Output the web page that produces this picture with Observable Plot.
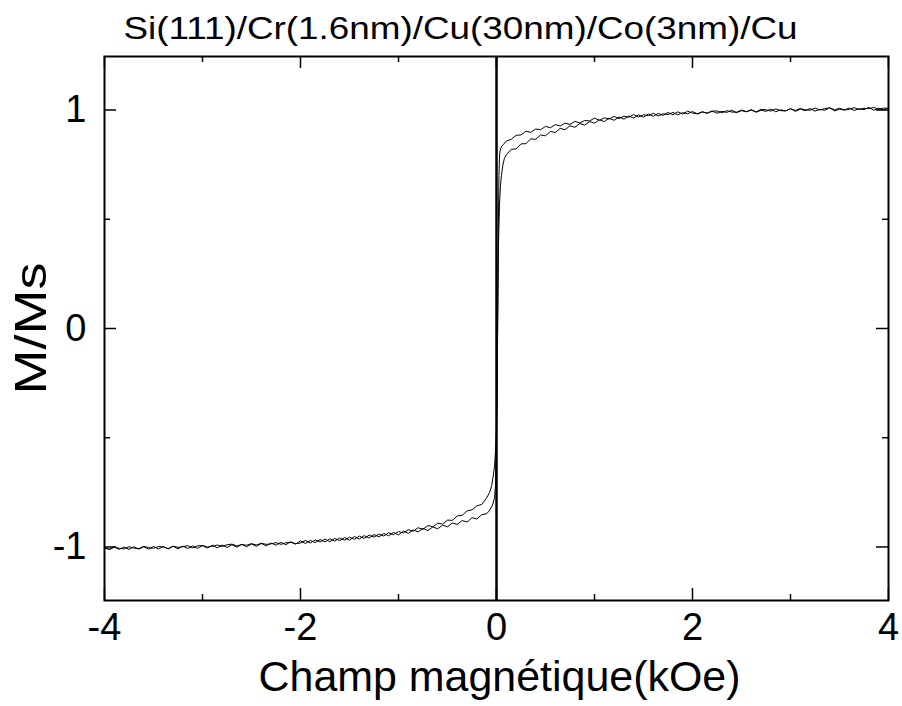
<!DOCTYPE html>
<html><head><meta charset="utf-8">
<script src="https://cdn.jsdelivr.net/npm/d3@7"></script>
<script src="https://cdn.jsdelivr.net/npm/@observablehq/plot@0.6"></script>
<style>body{margin:0;background:#fff} svg{display:block}</style>
</head><body><div id="chart"></div><script>
const title = "Si(111)/Cr(1.6nm)/Cu(30nm)/Co(3nm)/Cu";
const xLabel = "Champ magnétique(kOe)";
const yLabel = "M/Ms";
const xMajorTicks = [-4, -2, 0, 2, 4];
const xMinorTicks = [-3, -1, 1, 3];
const yMajorTicks = [-1, 0, 1];
const yMinorTicks = [-0.5, 0.5];

// descending branch (field swept from +4 to -4 kOe)
const fieldDown = [
  4.00,3.95,3.90,3.85,3.80,3.75,3.70,3.65,3.60,3.55,3.50,3.45,3.40,3.35,3.30,3.25,3.20,3.15,3.10,3.05,
  3.00,2.95,2.90,2.85,2.80,2.75,2.70,2.65,2.60,2.55,2.50,2.45,2.40,2.35,2.30,2.25,2.20,2.15,2.10,2.05,
  2.00,1.95,1.90,1.85,1.80,1.75,1.70,1.65,1.60,1.55,1.50,1.45,1.40,1.35,1.30,1.25,1.20,1.15,1.10,1.05,
  1.00,0.95,0.90,0.85,0.80,0.75,0.70,0.65,0.60,0.55,0.50,0.45,0.40,0.35,0.30,0.25,0.20,0.15,0.10,0.07,
  0.05,0.035,0.03,0.025,0.02,0.015,0.01,0.005,0.0,-0.01,-0.02,-0.035,-0.05,-0.07,-0.10,
  -0.15,-0.20,-0.25,-0.30,-0.35,-0.40,-0.45,-0.50,-0.55,-0.60,-0.65,-0.70,-0.75,-0.80,-0.85,-0.90,-0.95,
  -1.00,-1.05,-1.10,-1.15,-1.20,-1.25,-1.30,-1.35,-1.40,-1.45,-1.50,-1.55,-1.60,-1.65,-1.70,-1.75,-1.80,-1.85,-1.90,-1.95,
  -2.00,-2.05,-2.10,-2.15,-2.20,-2.25,-2.30,-2.35,-2.40,-2.45,-2.50,-2.55,-2.60,-2.65,-2.70,-2.75,-2.80,-2.85,-2.90,-2.95,
  -3.00,-3.05,-3.10,-3.15,-3.20,-3.25,-3.30,-3.35,-3.40,-3.45,-3.50,-3.55,-3.60,-3.65,-3.70,-3.75,-3.80,-3.85,-3.90,-3.95,-4.00];
const momentDown = [
  1.010,1.001,1.008,0.999,1.012,1.002,1.006,0.998,1.009,1.000,1.004,0.996,1.010,0.999,1.003,0.995,1.007,0.997,1.004,0.994,
  1.006,0.996,1.001,0.992,1.004,0.994,0.999,0.990,1.002,0.992,0.997,0.988,0.999,0.989,0.994,0.985,0.996,0.986,0.991,0.982,
  0.993,0.983,0.988,0.978,0.989,0.979,0.983,0.973,0.985,0.974,0.978,0.968,0.979,0.967,0.972,0.961,0.971,0.959,0.964,0.953,
  0.963,0.950,0.952,0.941,0.948,0.934,0.940,0.927,0.933,0.919,0.925,0.910,0.913,0.898,0.903,0.886,0.884,0.866,0.858,0.842,
  0.832,0.812,0.78,0.70,0.50,0.20,-0.10,-0.32,-0.45,-0.56,-0.63,-0.68,-0.72,-0.75,-0.775,
  -0.805,-0.812,-0.830,-0.835,-0.855,-0.858,-0.878,-0.877,-0.895,-0.891,-0.908,-0.902,-0.919,-0.912,-0.928,-0.921,-0.936,
  -0.929,-0.944,-0.935,-0.950,-0.941,-0.955,-0.946,-0.961,-0.950,-0.965,-0.955,-0.969,-0.959,-0.973,-0.963,-0.977,-0.966,-0.980,-0.970,-0.984,
  -0.972,-0.987,-0.976,-0.990,-0.979,-0.992,-0.982,-0.995,-0.984,-0.997,-0.986,-0.999,-0.988,-1.001,-0.990,-1.002,-0.991,-1.004,-0.992,-1.005,
  -0.994,-1.006,-0.995,-1.007,-0.996,-1.008,-0.997,-1.009,-0.998,-1.009,-0.998,-1.010,-0.999,-1.010,-0.999,-1.011,-1.000,-1.011,-1.000,-1.012,-1.003];

// ascending branch (field swept from -4 to +4 kOe)
const fieldUp = [
  -4.00,-3.95,-3.90,-3.85,-3.80,-3.75,-3.70,-3.65,-3.60,-3.55,-3.50,-3.45,-3.40,-3.35,-3.30,-3.25,-3.20,-3.15,-3.10,-3.05,
  -3.00,-2.95,-2.90,-2.85,-2.80,-2.75,-2.70,-2.65,-2.60,-2.55,-2.50,-2.45,-2.40,-2.35,-2.30,-2.25,-2.20,-2.15,-2.10,-2.05,
  -2.00,-1.95,-1.90,-1.85,-1.80,-1.75,-1.70,-1.65,-1.60,-1.55,-1.50,-1.45,-1.40,-1.35,-1.30,-1.25,-1.20,-1.15,-1.10,-1.05,
  -1.00,-0.95,-0.90,-0.85,-0.80,-0.75,-0.70,-0.65,-0.60,-0.55,-0.50,-0.45,-0.40,-0.35,-0.30,-0.25,-0.20,-0.15,-0.10,-0.07,
  -0.04,-0.02,-0.01,0.0,0.01,0.02,0.03,0.04,0.05,0.065,0.08,0.10,
  0.15,0.20,0.25,0.30,0.35,0.40,0.45,0.50,0.55,0.60,0.65,0.70,0.75,0.80,0.85,0.90,0.95,
  1.00,1.05,1.10,1.15,1.20,1.25,1.30,1.35,1.40,1.45,1.50,1.55,1.60,1.65,1.70,1.75,1.80,1.85,1.90,1.95,
  2.00,2.05,2.10,2.15,2.20,2.25,2.30,2.35,2.40,2.45,2.50,2.55,2.60,2.65,2.70,2.75,2.80,2.85,2.90,2.95,
  3.00,3.05,3.10,3.15,3.20,3.25,3.30,3.35,3.40,3.45,3.50,3.55,3.60,3.65,3.70,3.75,3.80,3.85,3.90,3.95,4.00];
const momentUp = [
  -1.004,-1.010,-1.001,-1.006,-1.009,-0.999,-1.005,-1.008,-0.997,-1.003,-1.006,-0.998,-1.000,-1.007,-0.996,-1.002,-0.999,-0.994,-1.004,-0.995,
  -0.993,-1.000,-0.997,-0.991,-0.998,-0.990,-0.987,-0.995,-0.989,-0.992,-0.985,-0.991,-0.983,-0.988,-0.986,-0.980,-0.988,-0.981,-0.979,-0.985,
  -0.982,-0.970,-0.982,-0.968,-0.977,-0.964,-0.976,-0.961,-0.971,-0.957,-0.969,-0.952,-0.964,-0.948,-0.959,-0.943,-0.954,-0.938,-0.949,-0.933,
  -0.945,-0.927,-0.938,-0.922,-0.931,-0.915,-0.925,-0.908,-0.917,-0.900,-0.908,-0.890,-0.897,-0.879,-0.886,-0.866,-0.872,-0.852,-0.848,-0.832,
  -0.808,-0.775,-0.72,-0.50,-0.05,0.38,0.56,0.65,0.70,0.748,0.778,0.795,
  0.820,0.822,0.845,0.846,0.868,0.866,0.886,0.882,0.902,0.897,0.916,0.910,0.928,0.921,0.938,0.931,0.947,
  0.940,0.955,0.947,0.962,0.953,0.968,0.958,0.973,0.963,0.978,0.967,0.982,0.971,0.985,0.975,0.989,0.978,0.992,0.981,0.995,
  0.986,0.983,0.992,0.985,0.994,0.996,0.988,0.997,0.991,0.990,1.000,0.993,0.999,0.992,1.003,1.001,0.995,1.005,0.997,0.996,
  1.006,0.998,1.007,1.001,0.999,1.009,1.000,1.006,1.010,1.001,1.008,1.000,1.003,1.011,1.002,1.008,1.006,1.012,1.003,1.009,1.007];

const down = fieldDown.map((h, i) => ({h, m: momentDown[i]}));
const up = fieldUp.map((h, i) => ({h, m: momentUp[i]}));

const W = 902, H = 706, mL = 104, mR = 14, mT = 56, mB = 106;
const innerW = W - mL - mR, innerH = H - mT - mB;
const font = "'Liberation Sans', Arial, sans-serif";
const fmt = d => String(d);

const plot = Plot.plot({
  width: W, height: H,
  marginLeft: mL, marginRight: mR, marginTop: mT, marginBottom: mB,
  style: {fontFamily: font, background: "#fff", color: "#000", overflow: "visible"},
  x: {domain: [-4, 4]},
  y: {domain: [-1.245, 1.245]},
  marks: [
    Plot.ruleX([0], {stroke: "#000", strokeWidth: 2.5}),
    Plot.line(down, {x: "h", y: "m", stroke: "#000", strokeWidth: 1}),
    Plot.line(up, {x: "h", y: "m", stroke: "#000", strokeWidth: 1}),
    Plot.tickX(xMajorTicks, {x: d => d, insetTop: innerH - 12, strokeWidth: 1.5}),
    Plot.tickX(xMajorTicks, {x: d => d, insetBottom: innerH - 12, strokeWidth: 1.5}),
    Plot.tickX(xMinorTicks, {x: d => d, insetTop: innerH - 6, strokeWidth: 1.5}),
    Plot.tickX(xMinorTicks, {x: d => d, insetBottom: innerH - 6, strokeWidth: 1.5}),
    Plot.tickY(yMajorTicks, {y: d => d, insetRight: innerW - 12, strokeWidth: 1.5}),
    Plot.tickY(yMajorTicks, {y: d => d, insetLeft: innerW - 12, strokeWidth: 1.5}),
    Plot.tickY(yMinorTicks, {y: d => d, insetRight: innerW - 6, strokeWidth: 1.5}),
    Plot.tickY(yMinorTicks, {y: d => d, insetLeft: innerW - 6, strokeWidth: 1.5}),
    Plot.frame({stroke: "#000", strokeWidth: 2}),
    Plot.axisX(xMajorTicks, {tickSize: 0, tickPadding: 13, fontSize: 38, tickFormat: fmt, label: null}),
    Plot.axisY(yMajorTicks, {tickSize: 0, tickPadding: 18, fontSize: 38, tickFormat: fmt, label: null}),
    Plot.text([title], {text: d => d, frameAnchor: "top", dx: -36, dy: -18, lineAnchor: "bottom", fontSize: 31}),
    Plot.text([xLabel], {text: d => d, frameAnchor: "bottom", dx: 3, dy: 90, lineAnchor: "bottom", fontSize: 42}),
    Plot.text([yLabel], {text: d => d, frameAnchor: "left", dx: -73, rotate: -90, textAnchor: "middle", lineAnchor: "middle", fontSize: 44})
  ]
});
document.getElementById("chart").appendChild(plot);
const fit = {[title]: 674, [xLabel]: 482, [yLabel]: 132};
d3.select(plot).selectAll("text").filter(function() { return this.textContent in fit; })
  .each(function() {
    d3.select(this).attr("textLength", fit[this.textContent]).attr("lengthAdjust", "spacingAndGlyphs");
  });
</script></body></html>
